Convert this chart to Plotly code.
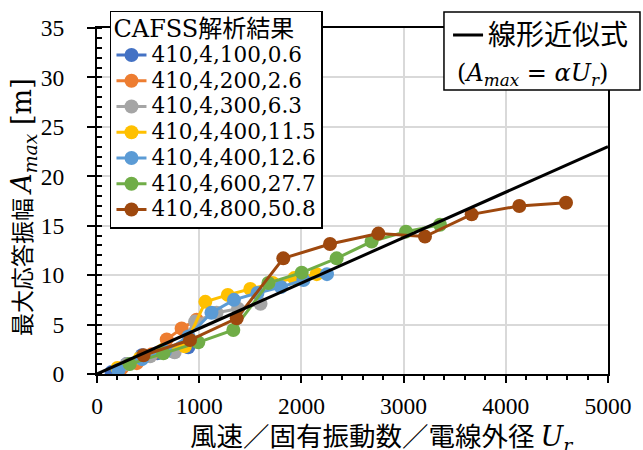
import plotly.graph_objects as go

# ---- data ----
series_names = ["410,4,100,0.6", "410,4,200,2.6", "410,4,300,6.3", "410,4,400,11.5",
                "410,4,400,12.6", "410,4,600,27.7", "410,4,800,50.8"]
colors = ["#4472C4", "#ED7D31", "#A5A5A5", "#FFC000", "#5B9BD5", "#70AD47", "#9E480E"]

ur_s1 = [143, 290, 440, 590, 740, 893]
a_s1 = [0.2, 1.0, 1.9, 2.1, 2.3, 2.7]

ur_s2 = [244, 390, 536, 682, 828, 975]
a_s2 = [0.6, 1.1, 2.0, 3.5, 4.6, 5.5]

ur_s3 = [290, 520, 760, 960, 1170, 1380, 1600]
a_s3 = [1.0, 1.8, 2.2, 5.3, 6.2, 6.6, 7.1]

ur_s4 = [200, 420, 640, 860, 1060, 1280, 1500, 1720, 1930, 2150]
a_s4 = [0.6, 1.6, 2.4, 2.8, 7.3, 8.0, 8.6, 9.2, 9.7, 10.1]

ur_s5 = [210, 440, 665, 895, 1120, 1340, 1570, 1800, 2020, 2250]
a_s5 = [0.4, 1.5, 2.3, 3.8, 6.2, 7.5, 8.2, 8.8, 9.5, 10.1]

ur_s6 = [320, 649, 991, 1334, 1677, 2003, 2345, 2687, 3023, 3356]
a_s6 = [1.0, 2.1, 3.2, 4.45, 9.2, 10.25, 11.7, 13.4, 14.4, 15.1]

ur_s7 = [455, 910, 1367, 1823, 2280, 2753, 3209, 3666, 4132, 4589]
a_s7 = [1.9, 3.44, 5.63, 11.7, 13.15, 14.2, 13.9, 16.15, 17.0, 17.33]

fit_ur = [0, 5000]
fit_a = [0, 23.0]

x_ticks = [0, 1000, 2000, 3000, 4000, 5000]
y_ticks = [0, 5, 10, 15, 20, 25, 30, 35]

legend_title = "CAFSS解析結果"
fit_label = "線形近似式"
fit_formula = "(<i>A</i><sub><i>max</i></sub> = <i>αU</i><sub><i>r</i></sub>)"
x_title = "風速／固有振動数／電線外径 <span style='font-family:DejaVu Serif;font-size:27px'><i>U</i><sub><i>r</i></sub></span>"
y_title = "最大応答振幅 <span style='font-family:DejaVu Serif;font-size:27px'><i>A</i><sub><i>max</i></sub> [m]</span>"

FONT = "Liberation Serif, Noto Sans CJK JP, serif"
LEGFONT = "DejaVu Serif, Noto Sans CJK JP, serif"
CJK = "Noto Sans CJK JP, sans-serif"


def big(txt, px):
    return "<span style='font-size:%spx'>%s</span>" % (px, txt)


fig = go.Figure()
xs = [ur_s1, ur_s2, ur_s3, ur_s4, ur_s5, ur_s6, ur_s7]
ys = [a_s1, a_s2, a_s3, a_s4, a_s5, a_s6, a_s7]
for name, c, x, y in zip(series_names, colors, xs, ys):
    fig.add_trace(go.Scatter(
        x=x, y=y, name=big(name, 21.5), mode="lines+markers",
        line=dict(color=c, width=3),
        marker=dict(color=c, size=14),
        legend="legend",
    ))

fig.add_trace(go.Scatter(
    x=fit_ur, y=fit_a, mode="lines", name=big(fit_label, 28),
    line=dict(color="black", width=3),
    legend="legend2",
))

# frame of the fit-line legend and its formula line
fig.add_shape(type="rect", xref="paper", yref="paper",
              x0=0.679, x1=1.0626, y0=0.821, y1=1.046,
              line=dict(color="black", width=1.5), fillcolor="white", layer="above")
fig.add_annotation(xref="paper", yref="paper", x=0.7006, y=0.867,
                   xanchor="left", yanchor="middle", showarrow=False,
                   text=fit_formula, font=dict(family="DejaVu Serif", size=24, color="black"))

# axis titles
fig.add_annotation(xref="paper", yref="paper", x=0.556, y=-0.178,
                   xanchor="center", yanchor="middle", showarrow=False,
                   text=x_title, font=dict(family=CJK, size=26.5, color="black"))
fig.add_annotation(xref="paper", yref="paper", x=-0.1448, y=0.4827,
                   xanchor="center", yanchor="middle", showarrow=False, textangle=-90,
                   text=y_title, font=dict(family=CJK, size=23, color="black"))

fig.update_layout(
    width=643, height=450,
    margin=dict(l=97, r=35, t=28, b=76, autoexpand=False),
    paper_bgcolor="white", plot_bgcolor="white",
    font=dict(family=FONT, size=22, color="black"),
    legend=dict(
        title=dict(text=big(legend_title, 24), font=dict(family=LEGFONT, size=19)),
        x=0.0254, y=0.9756, xanchor="left", yanchor="top", yref="container",
        bgcolor="white", bordercolor="black", borderwidth=1.5,
        font=dict(family=LEGFONT, size=17.5), tracegroupgap=0,
        maxheight=450,
    ),
    legend2=dict(
        x=0.687, y=0.973, xanchor="left", yanchor="top", yref="container",
        bgcolor="rgba(0,0,0,0)", borderwidth=0,
        font=dict(family=CJK, size=25),
    ),
    xaxis=dict(
        range=[0, 5000], tickvals=x_ticks, ticktext=[str(v) for v in x_ticks],
        showgrid=True, gridcolor="#d9d9d9", gridwidth=1.5,
        showline=True, linecolor="black", linewidth=2, mirror=True,
        ticks="outside", ticklen=7, tickwidth=1.5, tickcolor="black",
        minor=dict(dtick=200, ticks="outside", ticklen=4, tickcolor="black", showgrid=False),
        zeroline=False, ticklabelstandoff=3, automargin=False,
        tickfont=dict(size=23.5),
    ),
    yaxis=dict(
        range=[0, 35], tickvals=y_ticks, ticktext=[str(v) for v in y_ticks],
        showgrid=True, gridcolor="#d9d9d9", gridwidth=1.5,
        showline=True, linecolor="black", linewidth=2, mirror=True,
        ticks="outside", ticklen=8, tickwidth=1.5, tickcolor="black",
        minor=dict(dtick=1, ticks="inside", ticklen=5, tickcolor="black", showgrid=False),
        zeroline=False, ticklabelstandoff=18, automargin=False,
        tickfont=dict(size=23.5),
    ),
)

fig.write_html("out.html", config={"displayModeBar": False},
               post_script="document.body.style.margin='0px';")
